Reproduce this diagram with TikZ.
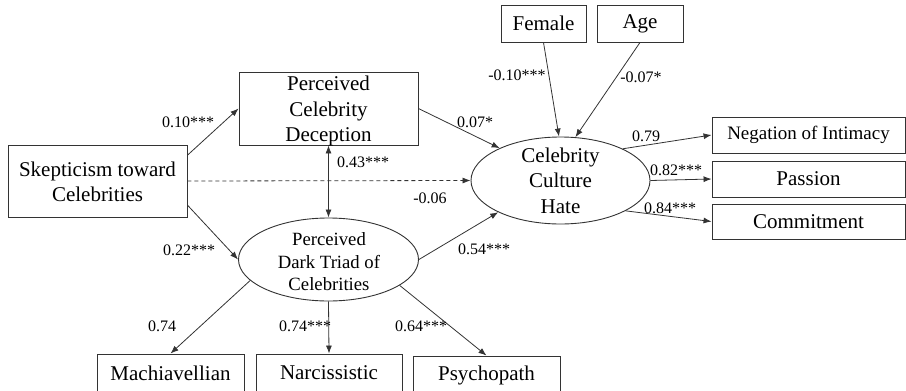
\documentclass[tikz,border=0pt]{standalone}
\usepackage{fontspec}
\setmainfont{Liberation Serif}
\usetikzlibrary{arrows.meta,shapes.geometric}
\definecolor{lc}{HTML}{333333}
\begin{document}
\begin{tikzpicture}[x=1pt,y=-1pt,
  box/.style={draw=lc,line width=0.9pt,inner sep=0pt,font=\fontsize{21}{25.5}\selectfont},
  oval/.style={draw=lc,line width=0.9pt,ellipse,inner sep=0pt},
  txt/.style={inner sep=0pt,align=center,font=\fontsize{21}{25.5}\selectfont},
  lab/.style={inner sep=0pt,font=\fontsize{16}{19}\selectfont},
  arr/.style={draw=lc,line width=0.8pt,-{Latex[length=8pt,width=6pt]}},
  arrboth/.style={draw=lc,line width=0.8pt,{Latex[length=8pt,width=6pt]}-{Latex[length=8pt,width=6pt]}}]
\useasboundingbox (0,0) rectangle (906,391);

% boxes and ovals
\node[box,minimum width=179pt,minimum height=72pt] (skep) at (97.5,181) {};
\node[txt] (skept) at (97.5,182) {Skepticism toward\\Celebrities};
\node[box,minimum width=179pt,minimum height=73pt] (pcd) at (328.5,108.5) {};
\node[txt] (pcdt) at (328.5,111) {Perceived\\Celebrity\\Deception};
\node[oval,minimum width=180pt,minimum height=83pt] (dt) at (328.5,259.5) {};
\node[txt,font=\fontsize{18.7}{22.5}\selectfont] (dtt) at (329,262) {Perceived\\Dark Triad of\\Celebrities};
\node[oval,minimum width=179pt,minimum height=87pt] (cch) at (560.5,180.5) {};
\node[txt] (ccht) at (560.5,180.5) {Celebrity\\Culture\\Hate};
\node[box,minimum width=85pt,minimum height=37pt] (fem) at (543.5,23.5) {Female};
\node[box,minimum width=86pt,minimum height=37pt] (age) at (640,23.5) {Age};
\node[box,minimum width=193pt,minimum height=36pt,font=\fontsize{19}{22}\selectfont] (neg) at (808.5,135) {Negation of Intimacy};
\node[box,minimum width=193pt,minimum height=36pt] (pas) at (808.5,179) {Passion};
\node[box,minimum width=193pt,minimum height=35pt] (com) at (808.5,221.5) {Commitment};
\node[box,minimum width=147pt,minimum height=38pt] (mach) at (170.5,373) {Machiavellian};
\node[box,minimum width=146pt,minimum height=38pt] (narc) at (329,373) {Narcissistic};
\node[box,minimum width=147pt,minimum height=38pt] (psy) at (486.5,375) {Psychopath};

% connectors
\draw[arr] (skep.16) -- (pcd.west);
\draw[arr] (skep.-15) -- (dt.west);
\draw[arr,dash pattern=on 4pt off 3pt] (skep.east) -- (cch.west);
\draw[arr] (pcd.east) -- (cch.152);
\draw[arrboth] (pcd.south) -- (dt.north);
\draw[arr] (dt.east) -- (cch.207);
\draw[arr] (fem.south) -- (cch.92);
\draw[arr] (age.south) -- (cch.71);
\draw[arr] (cch.27) -- (neg.west);
\draw[arr] (cch.east) -- (pas.west);
\draw[arr] (cch.-25) -- (com.west);
\draw[arr] (dt.195) -- (mach.north);
\draw[arr] (dt.south) -- (narc.north);
\draw[arr] (dt.-20) -- (psy.north);

% labels
\node[lab] (l1) at (188,122) {0.10***};
\node[lab] (l2) at (189,250) {0.22***};
\node[lab] (l3) at (363,162) {0.43***};
\node[lab] (l4) at (430,198) {-0.06};
\node[lab] (l5) at (475,122) {0.07*};
\node[lab] (l6) at (484,249) {0.54***};
\node[lab] (l7) at (517,75) {-0.10***};
\node[lab] (l8) at (641,77) {-0.07*};
\node[lab] (l9) at (646,136) {0.79};
\node[lab] (l10) at (676,170) {0.82***};
\node[lab] (l11) at (670,208) {0.84***};
\node[lab] (l12) at (162,326) {0.74};
\node[lab] (l13) at (305,326) {0.74***};
\node[lab] (l14) at (421,326) {0.64***};
\end{tikzpicture}
\end{document}
